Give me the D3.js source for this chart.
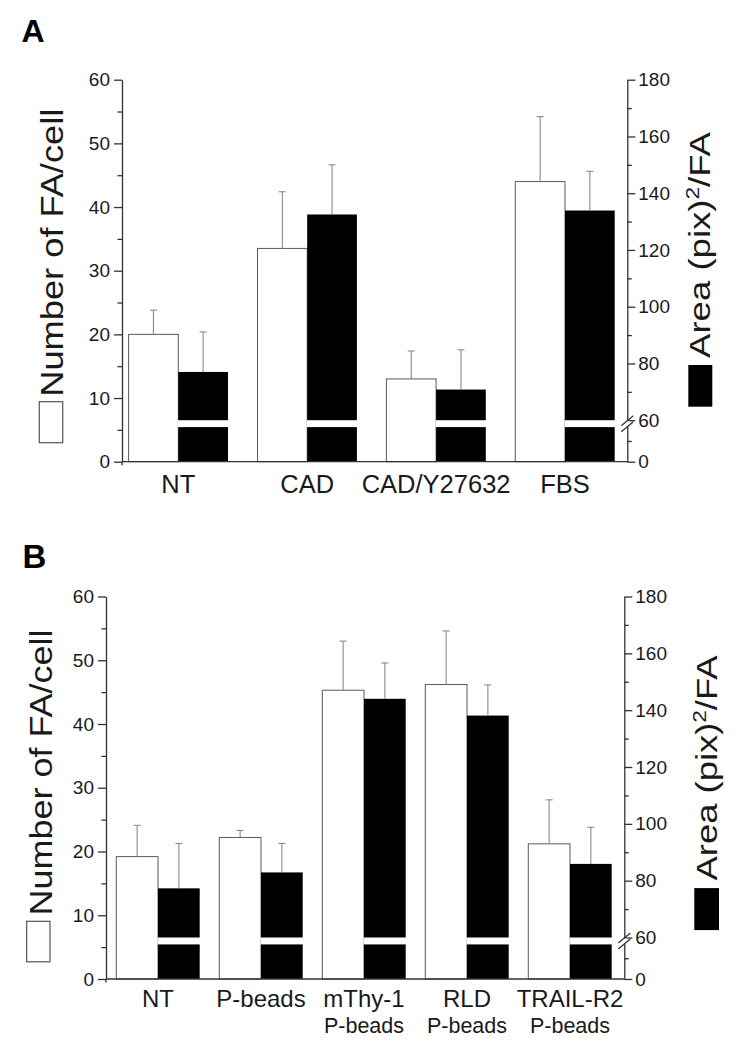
<!DOCTYPE html>
<html><head><meta charset="utf-8">
<script src="https://cdn.jsdelivr.net/npm/d3@7"></script>
<style>
body{margin:0;background:#fff}
text{font-family:"Liberation Sans",Arial,Helvetica,sans-serif;fill:#1a1a1a}
</style>
</head><body><svg id="c" width="750" height="1048"></svg>
<script>
// ---- data ----
const catsA = ["NT", "CAD", "CAD/Y27632", "FBS"];
const faA = [20.0, 33.5, 13.0, 44.0];          // Number of FA/cell (white bars, left axis)
const faErrA = [3.8, 8.9, 4.4, 10.2];
const areaA = [77.0, 132.5, 70.8, 133.9];      // Area (pix)^2/FA (black bars, right axis)
const areaErrA = [14.1, 17.5, 14.0, 13.8];

const catsB = ["NT", "P-beads", "mThy-1\nP-beads", "RLD\nP-beads", "TRAIL-R2\nP-beads"];
const faB = [19.2, 22.2, 45.3, 46.2, 21.2];
const faErrB = [4.9, 1.1, 7.7, 8.4, 6.9];
const areaB = [77.3, 82.9, 144.0, 138.1, 85.9];
const areaErrB = [15.8, 10.2, 12.6, 10.8, 12.9];

const leftTicks = [0, 10, 20, 30, 40, 50, 60];
const leftMinor = [5, 15, 25, 35, 45, 55];
const rightTicks = [0, 60, 80, 100, 120, 140, 160, 180];
const rightMinor = [30, 70, 90, 110, 130, 150, 170];
const rightBreak = [50, 60];   // axis break (gap) on the right axis
const leftLabel = "Number of FA/cell";

// ---- layout ----
const panels = [
  {letter:"A", lx:21.5, ly:41.7, fs:32, y0:461.7, h:382, xL:122, xR:627.3, cx:[178.3,565], bw:49.7,
   cats:catsA, fa:faA, faErr:faErrA, area:areaA, areaErr:areaErrA, catBase:493.3, catFs:[25.5,25.5], lineGap:26,
   left:{x:63, y:396.7, len:288, box:[39.3,401.7,23.4,41]},
   right:{x:710, y:358, len:226, box:[688.3,365,24,41.7]}},
  {letter:"B", lx:22.5, ly:568, fs:33, y0:979, h:382.5, xL:106, xR:624.3, cx:[158,570], bw:41.7,
   cats:catsB, fa:faB, faErr:faErrB, area:areaB, areaErr:areaErrB, catBase:1007, catFs:[24,21.5], lineGap:25.5,
   left:{x:51.7, y:915.4, len:286, box:[26.7,921.3,23.3,40.5]},
   right:{x:716.5, y:880.5, len:225, box:[694.3,888.1,24.7,42]}}
];

const svg = d3.select("#c");
const axisCol = "#333";
const errCol = "#8a8a8a";

panels.forEach(p => {
  const g = svg.append("g");
  const yL = d3.scaleLinear().domain([0, 60]).range([p.y0, p.y0 - p.h]);
  const yR = d3.scaleLinear().domain([0, 60, 180]).range([p.y0, p.y0 - 41.5, p.y0 - p.h]);
  const x = d3.scalePoint().domain(p.cats).range(p.cx);

  // panel letter
  g.append("text").attr("x", p.lx).attr("y", p.ly).attr("font-size", p.fs)
    .attr("font-weight", "bold").style("fill", "#000").text(p.letter);

  // white bars
  g.selectAll(".wb").data(p.cats).join("rect")
    .attr("x", d => x(d) - p.bw).attr("width", p.bw)
    .attr("y", (d,i) => yL(p.fa[i])).attr("height", (d,i) => p.y0 - yL(p.fa[i]))
    .attr("fill", "#fff").attr("stroke", "#5a5a5a").attr("stroke-width", 1);

  // black bars
  g.selectAll(".bb").data(p.cats).join("rect")
    .attr("x", d => x(d)).attr("width", p.bw)
    .attr("y", (d,i) => yR(p.area[i])).attr("height", (d,i) => p.y0 - yR(p.area[i]))
    .attr("fill", "#000");

  // break gap in black bars
  g.selectAll(".gap").data(p.cats).join("rect")
    .attr("x", d => x(d) - 0.5).attr("width", p.bw + 1)
    .attr("y", yR(rightBreak[1])).attr("height", yR(rightBreak[0]) - yR(rightBreak[1]))
    .attr("fill", "#fff");

  // error bars (upper only)
  const errs = [];
  p.cats.forEach((c, i) => {
    errs.push({cx: x(c) - p.bw/2, y1: yL(p.fa[i]), y2: yL(p.fa[i] + p.faErr[i])});
    errs.push({cx: x(c) + p.bw/2, y1: yR(p.area[i]), y2: yR(p.area[i] + p.areaErr[i])});
  });
  const eg = g.selectAll(".err").data(errs).join("g").attr("stroke", errCol).attr("stroke-width", 1.1);
  eg.append("line").attr("x1", d => d.cx).attr("x2", d => d.cx).attr("y1", d => d.y1).attr("y2", d => d.y2);
  eg.append("line").attr("x1", d => d.cx - 3.5).attr("x2", d => d.cx + 3.5).attr("y1", d => d.y2).attr("y2", d => d.y2);

  // left axis
  const la = g.append("g").attr("transform", `translate(${p.xL},0)`)
    .call(d3.axisLeft(yL).tickValues(leftTicks).tickSize(8).tickSizeOuter(0).tickPadding(4));
  la.selectAll("text").attr("font-size", 19).style("font-family", '"Liberation Sans",Arial,sans-serif').style("fill","#1a1a1a");
  g.append("g").attr("transform", `translate(${p.xL},0)`)
    .call(d3.axisLeft(yL).tickValues(leftMinor).tickSize(4.5).tickFormat(""))
    .select(".domain").remove();

  // right axis
  const ra = g.append("g").attr("transform", `translate(${p.xR},0)`)
    .call(d3.axisRight(yR).tickValues(rightTicks).tickSize(8).tickSizeOuter(0).tickPadding(3));
  ra.selectAll("text").attr("font-size", 19).style("font-family", '"Liberation Sans",Arial,sans-serif').style("fill","#1a1a1a");
  g.append("g").attr("transform", `translate(${p.xR},0)`)
    .call(d3.axisRight(yR).tickValues(rightMinor).tickSize(4.5).tickFormat(""))
    .select(".domain").remove();
  g.selectAll(".domain, .tick line").attr("stroke", axisCol).attr("stroke-width", 1.3);

  // x axis line
  g.append("line").attr("x1", p.xL).attr("x2", p.xR).attr("y1", p.y0).attr("y2", p.y0)
    .attr("stroke", axisCol).attr("stroke-width", 1.3);
  g.append("line").attr("x1", p.xL).attr("x2", p.xL).attr("y1", p.y0).attr("y2", p.y0 + 3.5)
    .attr("stroke", axisCol).attr("stroke-width", 1.3);

  // axis break marks on right axis
  const yc = (yR(rightBreak[0]) + yR(rightBreak[1])) / 2;
  g.append("rect").attr("x", p.xR - 2).attr("y", yc - 2.5).attr("width", 4).attr("height", 5).attr("fill", "#fff");
  [-3, 3].forEach(d => {
    g.append("line").attr("x1", p.xR - 6).attr("y1", yc + d + 5).attr("x2", p.xR + 6).attr("y2", yc + d - 5)
      .attr("stroke", axisCol).attr("stroke-width", 1.3);
  });

  // category labels (one text element per line)
  p.cats.forEach(d => {
    d.split("\n").forEach((t, k) => {
      g.append("text").attr("text-anchor", "middle")
        .attr("x", x(d)).attr("y", p.catBase + k * p.lineGap)
        .attr("font-size", p.catFs[k]).text(t);
    });
  });

  // left axis label + white legend box
  g.append("rect").attr("x", p.left.box[0]).attr("y", p.left.box[1]).attr("width", p.left.box[2]).attr("height", p.left.box[3])
    .attr("fill", "#fff").attr("stroke", "#555").attr("stroke-width", 1.2);
  g.append("text").attr("transform", `translate(${p.left.x},${p.left.y}) rotate(-90)`)
    .attr("font-size", 31).attr("textLength", p.left.len).attr("lengthAdjust", "spacingAndGlyphs")
    .text(leftLabel);

  // right axis label + black legend box
  g.append("rect").attr("x", p.right.box[0]).attr("y", p.right.box[1]).attr("width", p.right.box[2]).attr("height", p.right.box[3])
    .attr("fill", "#000");
  const rt = g.append("text").attr("transform", `translate(${p.right.x},${p.right.y}) rotate(-90)`)
    .attr("font-size", 29).attr("textLength", p.right.len).attr("lengthAdjust", "spacingAndGlyphs");
  rt.append("tspan").text("Area (pix)");
  rt.append("tspan").attr("font-size", 18).attr("dy", -11).text("2");
  rt.append("tspan").attr("dy", 11).text("/FA");
});
</script>
</body></html>
